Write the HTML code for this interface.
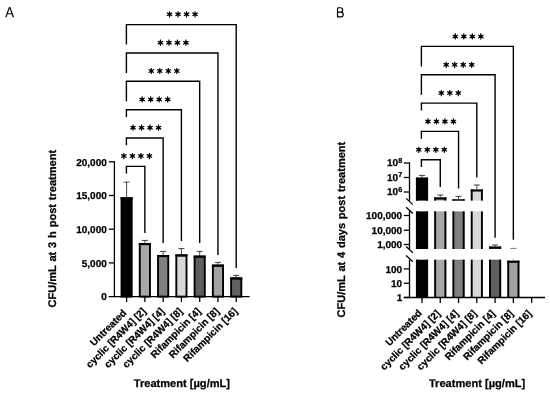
<!DOCTYPE html>
<html><head><meta charset="utf-8"><title>Figure</title>
<style>
html,body{margin:0;padding:0;background:#fff;}
svg{display:block;will-change:transform;font-family:'Liberation Sans', sans-serif;}
text{fill:#000;stroke:#000;stroke-width:0.25px;text-rendering:geometricPrecision;}
</style></head>
<body>
<svg width="550" height="395" viewBox="0 0 550 395">
<rect width="550" height="395" fill="#fff"/>
<line x1="126.60" y1="182.10" x2="126.60" y2="197.30" stroke="#1a1a1a" stroke-width="0.8" stroke-linecap="butt"/>
<line x1="123.60" y1="182.10" x2="129.60" y2="182.10" stroke="#222" stroke-width="0.85" stroke-linecap="butt"/>
<rect x="121.50" y="198.25" width="10.20" height="98.35" fill="#000" stroke="#000" stroke-width="1.9"/>
<line x1="120.55" y1="198.38" x2="132.65" y2="198.38" stroke="#000" stroke-width="2.16" stroke-linecap="butt"/>
<line x1="144.87" y1="240.40" x2="144.87" y2="243.00" stroke="#1a1a1a" stroke-width="0.8" stroke-linecap="butt"/>
<line x1="141.87" y1="240.40" x2="147.87" y2="240.40" stroke="#222" stroke-width="0.85" stroke-linecap="butt"/>
<rect x="139.77" y="243.95" width="10.20" height="52.65" fill="#a8a8a9" stroke="#000" stroke-width="1.9"/>
<line x1="138.82" y1="244.08" x2="150.92" y2="244.08" stroke="#000" stroke-width="2.16" stroke-linecap="butt"/>
<line x1="163.14" y1="251.40" x2="163.14" y2="255.00" stroke="#1a1a1a" stroke-width="0.8" stroke-linecap="butt"/>
<line x1="160.14" y1="251.40" x2="166.14" y2="251.40" stroke="#222" stroke-width="0.85" stroke-linecap="butt"/>
<rect x="158.04" y="255.95" width="10.20" height="40.65" fill="#808080" stroke="#000" stroke-width="1.9"/>
<line x1="157.09" y1="256.08" x2="169.19" y2="256.08" stroke="#000" stroke-width="2.16" stroke-linecap="butt"/>
<line x1="181.41" y1="248.60" x2="181.41" y2="254.40" stroke="#1a1a1a" stroke-width="0.8" stroke-linecap="butt"/>
<line x1="178.41" y1="248.60" x2="184.41" y2="248.60" stroke="#222" stroke-width="0.85" stroke-linecap="butt"/>
<rect x="176.31" y="255.35" width="10.20" height="41.25" fill="#d8d8d8" stroke="#000" stroke-width="1.9"/>
<line x1="175.36" y1="255.48" x2="187.46" y2="255.48" stroke="#000" stroke-width="2.16" stroke-linecap="butt"/>
<line x1="199.68" y1="251.40" x2="199.68" y2="255.60" stroke="#1a1a1a" stroke-width="0.8" stroke-linecap="butt"/>
<line x1="196.68" y1="251.40" x2="202.68" y2="251.40" stroke="#222" stroke-width="0.85" stroke-linecap="butt"/>
<rect x="194.58" y="256.55" width="10.20" height="40.05" fill="#5f5f5f" stroke="#000" stroke-width="1.9"/>
<line x1="193.63" y1="256.68" x2="205.73" y2="256.68" stroke="#000" stroke-width="2.16" stroke-linecap="butt"/>
<line x1="217.95" y1="262.40" x2="217.95" y2="264.60" stroke="#1a1a1a" stroke-width="0.8" stroke-linecap="butt"/>
<line x1="214.95" y1="262.40" x2="220.95" y2="262.40" stroke="#222" stroke-width="0.85" stroke-linecap="butt"/>
<rect x="212.85" y="265.55" width="10.20" height="31.05" fill="#a3a3a5" stroke="#000" stroke-width="1.9"/>
<line x1="211.90" y1="265.68" x2="224.00" y2="265.68" stroke="#000" stroke-width="2.16" stroke-linecap="butt"/>
<line x1="236.22" y1="275.40" x2="236.22" y2="277.40" stroke="#1a1a1a" stroke-width="0.8" stroke-linecap="butt"/>
<line x1="233.22" y1="275.40" x2="239.22" y2="275.40" stroke="#222" stroke-width="0.85" stroke-linecap="butt"/>
<rect x="231.12" y="278.35" width="10.20" height="18.25" fill="#606060" stroke="#000" stroke-width="1.9"/>
<line x1="230.17" y1="278.48" x2="242.27" y2="278.48" stroke="#000" stroke-width="2.16" stroke-linecap="butt"/>
<line x1="114.40" y1="161.15" x2="114.40" y2="297.25" stroke="#000" stroke-width="1.3" stroke-linecap="butt"/>
<line x1="108.60" y1="296.60" x2="249.60" y2="296.60" stroke="#000" stroke-width="1.3" stroke-linecap="butt"/>
<line x1="108.80" y1="262.90" x2="114.40" y2="262.90" stroke="#000" stroke-width="1.3" stroke-linecap="butt"/>
<line x1="108.80" y1="229.20" x2="114.40" y2="229.20" stroke="#000" stroke-width="1.3" stroke-linecap="butt"/>
<line x1="108.80" y1="195.50" x2="114.40" y2="195.50" stroke="#000" stroke-width="1.3" stroke-linecap="butt"/>
<line x1="108.80" y1="161.80" x2="114.40" y2="161.80" stroke="#000" stroke-width="1.3" stroke-linecap="butt"/>
<line x1="126.60" y1="296.60" x2="126.60" y2="302.10" stroke="#000" stroke-width="1.3" stroke-linecap="butt"/>
<line x1="144.87" y1="296.60" x2="144.87" y2="302.10" stroke="#000" stroke-width="1.3" stroke-linecap="butt"/>
<line x1="163.14" y1="296.60" x2="163.14" y2="302.10" stroke="#000" stroke-width="1.3" stroke-linecap="butt"/>
<line x1="181.41" y1="296.60" x2="181.41" y2="302.10" stroke="#000" stroke-width="1.3" stroke-linecap="butt"/>
<line x1="199.68" y1="296.60" x2="199.68" y2="302.10" stroke="#000" stroke-width="1.3" stroke-linecap="butt"/>
<line x1="217.95" y1="296.60" x2="217.95" y2="302.10" stroke="#000" stroke-width="1.3" stroke-linecap="butt"/>
<line x1="236.22" y1="296.60" x2="236.22" y2="302.10" stroke="#000" stroke-width="1.3" stroke-linecap="butt"/>
<text x="106.80" y="300.45" text-anchor="end" font-size="10" font-weight="bold">0</text>
<text x="106.80" y="266.75" text-anchor="end" font-size="10" font-weight="bold">5,000</text>
<text x="106.80" y="233.05" text-anchor="end" font-size="10" font-weight="bold">10,000</text>
<text x="106.80" y="199.35" text-anchor="end" font-size="10" font-weight="bold">15,000</text>
<text x="106.80" y="165.65" text-anchor="end" font-size="10" font-weight="bold">20,000</text>
<path d="M126.40 173.60V166.40H144.87V233.10" stroke="#000" stroke-width="1.4" fill="none" stroke-linejoin="miter"/>
<path d="M123.03 156.10L123.38 159.22L124.38 159.22L124.73 156.10ZM123.46 156.84L126.34 158.09L126.84 157.23L124.31 155.36ZM123.46 155.36L120.93 157.23L121.43 158.09L124.31 156.84ZM124.31 155.36L121.43 154.11L120.93 154.97L123.46 156.84ZM124.73 156.10L124.38 152.98L123.38 152.98L123.03 156.10ZM124.31 156.84L126.84 154.97L126.34 154.11L123.46 155.36ZM122.73 156.10a1.15 1.15 0 1 0 2.3 0a1.15 1.15 0 1 0 -2.3 0ZM131.53 156.10L131.88 159.22L132.88 159.22L133.23 156.10ZM131.96 156.84L134.84 158.09L135.34 157.23L132.81 155.36ZM131.96 155.36L129.43 157.23L129.93 158.09L132.81 156.84ZM132.81 155.36L129.93 154.11L129.43 154.97L131.96 156.84ZM133.23 156.10L132.88 152.98L131.88 152.98L131.53 156.10ZM132.81 156.84L135.34 154.97L134.84 154.11L131.96 155.36ZM131.23 156.10a1.15 1.15 0 1 0 2.3 0a1.15 1.15 0 1 0 -2.3 0ZM140.03 156.10L140.38 159.22L141.38 159.22L141.73 156.10ZM140.46 156.84L143.34 158.09L143.84 157.23L141.31 155.36ZM140.46 155.36L137.93 157.23L138.43 158.09L141.31 156.84ZM141.31 155.36L138.43 154.11L137.93 154.97L140.46 156.84ZM141.73 156.10L141.38 152.98L140.38 152.98L140.03 156.10ZM141.31 156.84L143.84 154.97L143.34 154.11L140.46 155.36ZM139.73 156.10a1.15 1.15 0 1 0 2.3 0a1.15 1.15 0 1 0 -2.3 0ZM148.53 156.10L148.88 159.22L149.88 159.22L150.23 156.10ZM148.96 156.84L151.84 158.09L152.34 157.23L149.81 155.36ZM148.96 155.36L146.43 157.23L146.93 158.09L149.81 156.84ZM149.81 155.36L146.93 154.11L146.43 154.97L148.96 156.84ZM150.23 156.10L149.88 152.98L148.88 152.98L148.53 156.10ZM149.81 156.84L152.34 154.97L151.84 154.11L148.96 155.36ZM148.23 156.10a1.15 1.15 0 1 0 2.3 0a1.15 1.15 0 1 0 -2.3 0Z" fill="#000" stroke="none"/>
<path d="M126.40 145.20V138.00H163.14V243.10" stroke="#000" stroke-width="1.4" fill="none" stroke-linejoin="miter"/>
<path d="M132.17 127.70L132.52 130.82L133.52 130.82L133.87 127.70ZM132.59 128.44L135.47 129.69L135.97 128.83L133.44 126.96ZM132.59 126.96L130.07 128.83L130.57 129.69L133.44 128.44ZM133.44 126.96L130.57 125.71L130.07 126.57L132.59 128.44ZM133.87 127.70L133.52 124.58L132.52 124.58L132.17 127.70ZM133.44 128.44L135.97 126.57L135.47 125.71L132.59 126.96ZM131.87 127.70a1.15 1.15 0 1 0 2.3 0a1.15 1.15 0 1 0 -2.3 0ZM140.67 127.70L141.02 130.82L142.02 130.82L142.37 127.70ZM141.09 128.44L143.97 129.69L144.47 128.83L141.94 126.96ZM141.09 126.96L138.57 128.83L139.07 129.69L141.94 128.44ZM141.94 126.96L139.07 125.71L138.57 126.57L141.09 128.44ZM142.37 127.70L142.02 124.58L141.02 124.58L140.67 127.70ZM141.94 128.44L144.47 126.57L143.97 125.71L141.09 126.96ZM140.37 127.70a1.15 1.15 0 1 0 2.3 0a1.15 1.15 0 1 0 -2.3 0ZM149.17 127.70L149.52 130.82L150.52 130.82L150.87 127.70ZM149.59 128.44L152.47 129.69L152.97 128.83L150.44 126.96ZM149.59 126.96L147.07 128.83L147.57 129.69L150.44 128.44ZM150.44 126.96L147.57 125.71L147.07 126.57L149.59 128.44ZM150.87 127.70L150.52 124.58L149.52 124.58L149.17 127.70ZM150.44 128.44L152.97 126.57L152.47 125.71L149.59 126.96ZM148.87 127.70a1.15 1.15 0 1 0 2.3 0a1.15 1.15 0 1 0 -2.3 0ZM157.67 127.70L158.02 130.82L159.02 130.82L159.37 127.70ZM158.09 128.44L160.97 129.69L161.47 128.83L158.94 126.96ZM158.09 126.96L155.57 128.83L156.07 129.69L158.94 128.44ZM158.94 126.96L156.07 125.71L155.57 126.57L158.09 128.44ZM159.37 127.70L159.02 124.58L158.02 124.58L157.67 127.70ZM158.94 128.44L161.47 126.57L160.97 125.71L158.09 126.96ZM157.37 127.70a1.15 1.15 0 1 0 2.3 0a1.15 1.15 0 1 0 -2.3 0Z" fill="#000" stroke="none"/>
<path d="M126.40 116.90V109.70H181.41V241.10" stroke="#000" stroke-width="1.4" fill="none" stroke-linejoin="miter"/>
<path d="M141.31 99.40L141.66 102.52L142.66 102.52L143.00 99.40ZM141.73 100.14L144.61 101.39L145.11 100.53L142.58 98.66ZM141.73 98.66L139.20 100.53L139.70 101.39L142.58 100.14ZM142.58 98.66L139.70 97.41L139.20 98.27L141.73 100.14ZM143.00 99.40L142.66 96.28L141.66 96.28L141.31 99.40ZM142.58 100.14L145.11 98.27L144.61 97.41L141.73 98.66ZM141.00 99.40a1.15 1.15 0 1 0 2.3 0a1.15 1.15 0 1 0 -2.3 0ZM149.81 99.40L150.16 102.52L151.16 102.52L151.50 99.40ZM150.23 100.14L153.11 101.39L153.61 100.53L151.08 98.66ZM150.23 98.66L147.70 100.53L148.20 101.39L151.08 100.14ZM151.08 98.66L148.20 97.41L147.70 98.27L150.23 100.14ZM151.50 99.40L151.16 96.28L150.16 96.28L149.81 99.40ZM151.08 100.14L153.61 98.27L153.11 97.41L150.23 98.66ZM149.50 99.40a1.15 1.15 0 1 0 2.3 0a1.15 1.15 0 1 0 -2.3 0ZM158.31 99.40L158.66 102.52L159.66 102.52L160.00 99.40ZM158.73 100.14L161.61 101.39L162.11 100.53L159.58 98.66ZM158.73 98.66L156.20 100.53L156.70 101.39L159.58 100.14ZM159.58 98.66L156.70 97.41L156.20 98.27L158.73 100.14ZM160.00 99.40L159.66 96.28L158.66 96.28L158.31 99.40ZM159.58 100.14L162.11 98.27L161.61 97.41L158.73 98.66ZM158.00 99.40a1.15 1.15 0 1 0 2.3 0a1.15 1.15 0 1 0 -2.3 0ZM166.81 99.40L167.16 102.52L168.16 102.52L168.50 99.40ZM167.23 100.14L170.11 101.39L170.61 100.53L168.08 98.66ZM167.23 98.66L164.70 100.53L165.20 101.39L168.08 100.14ZM168.08 98.66L165.20 97.41L164.70 98.27L167.23 100.14ZM168.50 99.40L168.16 96.28L167.16 96.28L166.81 99.40ZM168.08 100.14L170.61 98.27L170.11 97.41L167.23 98.66ZM166.50 99.40a1.15 1.15 0 1 0 2.3 0a1.15 1.15 0 1 0 -2.3 0Z" fill="#000" stroke="none"/>
<path d="M126.40 101.30V81.30H199.68V243.10" stroke="#000" stroke-width="1.4" fill="none" stroke-linejoin="miter"/>
<path d="M150.44 71.00L150.79 74.12L151.79 74.12L152.14 71.00ZM150.87 71.74L153.74 72.99L154.24 72.13L151.72 70.26ZM150.87 70.26L148.34 72.13L148.84 72.99L151.72 71.74ZM151.72 70.26L148.84 69.01L148.34 69.87L150.87 71.74ZM152.14 71.00L151.79 67.88L150.79 67.88L150.44 71.00ZM151.72 71.74L154.24 69.87L153.74 69.01L150.87 70.26ZM150.14 71.00a1.15 1.15 0 1 0 2.3 0a1.15 1.15 0 1 0 -2.3 0ZM158.94 71.00L159.29 74.12L160.29 74.12L160.64 71.00ZM159.37 71.74L162.24 72.99L162.74 72.13L160.22 70.26ZM159.37 70.26L156.84 72.13L157.34 72.99L160.22 71.74ZM160.22 70.26L157.34 69.01L156.84 69.87L159.37 71.74ZM160.64 71.00L160.29 67.88L159.29 67.88L158.94 71.00ZM160.22 71.74L162.74 69.87L162.24 69.01L159.37 70.26ZM158.64 71.00a1.15 1.15 0 1 0 2.3 0a1.15 1.15 0 1 0 -2.3 0ZM167.44 71.00L167.79 74.12L168.79 74.12L169.14 71.00ZM167.87 71.74L170.74 72.99L171.24 72.13L168.72 70.26ZM167.87 70.26L165.34 72.13L165.84 72.99L168.72 71.74ZM168.72 70.26L165.84 69.01L165.34 69.87L167.87 71.74ZM169.14 71.00L168.79 67.88L167.79 67.88L167.44 71.00ZM168.72 71.74L171.24 69.87L170.74 69.01L167.87 70.26ZM167.14 71.00a1.15 1.15 0 1 0 2.3 0a1.15 1.15 0 1 0 -2.3 0ZM175.94 71.00L176.29 74.12L177.29 74.12L177.64 71.00ZM176.37 71.74L179.24 72.99L179.74 72.13L177.22 70.26ZM176.37 70.26L173.84 72.13L174.34 72.99L177.22 71.74ZM177.22 70.26L174.34 69.01L173.84 69.87L176.37 71.74ZM177.64 71.00L177.29 67.88L176.29 67.88L175.94 71.00ZM177.22 71.74L179.74 69.87L179.24 69.01L176.37 70.26ZM175.64 71.00a1.15 1.15 0 1 0 2.3 0a1.15 1.15 0 1 0 -2.3 0Z" fill="#000" stroke="none"/>
<path d="M126.40 72.96V52.96H217.95V255.10" stroke="#000" stroke-width="1.4" fill="none" stroke-linejoin="miter"/>
<path d="M159.58 42.66L159.93 45.78L160.93 45.78L161.28 42.66ZM160.00 43.40L162.88 44.65L163.38 43.79L160.85 41.92ZM160.00 41.92L157.47 43.79L157.97 44.65L160.85 43.40ZM160.85 41.92L157.97 40.67L157.47 41.53L160.00 43.40ZM161.28 42.66L160.93 39.54L159.93 39.54L159.58 42.66ZM160.85 43.40L163.38 41.53L162.88 40.67L160.00 41.92ZM159.28 42.66a1.15 1.15 0 1 0 2.3 0a1.15 1.15 0 1 0 -2.3 0ZM168.08 42.66L168.43 45.78L169.43 45.78L169.78 42.66ZM168.50 43.40L171.38 44.65L171.88 43.79L169.35 41.92ZM168.50 41.92L165.97 43.79L166.47 44.65L169.35 43.40ZM169.35 41.92L166.47 40.67L165.97 41.53L168.50 43.40ZM169.78 42.66L169.43 39.54L168.43 39.54L168.08 42.66ZM169.35 43.40L171.88 41.53L171.38 40.67L168.50 41.92ZM167.78 42.66a1.15 1.15 0 1 0 2.3 0a1.15 1.15 0 1 0 -2.3 0ZM176.58 42.66L176.93 45.78L177.93 45.78L178.28 42.66ZM177.00 43.40L179.88 44.65L180.38 43.79L177.85 41.92ZM177.00 41.92L174.47 43.79L174.97 44.65L177.85 43.40ZM177.85 41.92L174.97 40.67L174.47 41.53L177.00 43.40ZM178.28 42.66L177.93 39.54L176.93 39.54L176.58 42.66ZM177.85 43.40L180.38 41.53L179.88 40.67L177.00 41.92ZM176.28 42.66a1.15 1.15 0 1 0 2.3 0a1.15 1.15 0 1 0 -2.3 0ZM185.08 42.66L185.43 45.78L186.43 45.78L186.78 42.66ZM185.50 43.40L188.38 44.65L188.88 43.79L186.35 41.92ZM185.50 41.92L182.97 43.79L183.47 44.65L186.35 43.40ZM186.35 41.92L183.47 40.67L182.97 41.53L185.50 43.40ZM186.78 42.66L186.43 39.54L185.43 39.54L185.08 42.66ZM186.35 43.40L188.88 41.53L188.38 40.67L185.50 41.92ZM184.78 42.66a1.15 1.15 0 1 0 2.3 0a1.15 1.15 0 1 0 -2.3 0Z" fill="#000" stroke="none"/>
<path d="M126.40 44.60V24.60H236.22V267.90" stroke="#000" stroke-width="1.4" fill="none" stroke-linejoin="miter"/>
<path d="M168.71 14.30L169.06 17.42L170.06 17.42L170.41 14.30ZM169.13 15.04L172.01 16.29L172.51 15.43L169.99 13.56ZM169.13 13.56L166.61 15.43L167.11 16.29L169.99 15.04ZM169.99 13.56L167.11 12.31L166.61 13.17L169.13 15.04ZM170.41 14.30L170.06 11.18L169.06 11.18L168.71 14.30ZM169.99 15.04L172.51 13.17L172.01 12.31L169.13 13.56ZM168.41 14.30a1.15 1.15 0 1 0 2.3 0a1.15 1.15 0 1 0 -2.3 0ZM177.21 14.30L177.56 17.42L178.56 17.42L178.91 14.30ZM177.63 15.04L180.51 16.29L181.01 15.43L178.49 13.56ZM177.63 13.56L175.11 15.43L175.61 16.29L178.49 15.04ZM178.49 13.56L175.61 12.31L175.11 13.17L177.63 15.04ZM178.91 14.30L178.56 11.18L177.56 11.18L177.21 14.30ZM178.49 15.04L181.01 13.17L180.51 12.31L177.63 13.56ZM176.91 14.30a1.15 1.15 0 1 0 2.3 0a1.15 1.15 0 1 0 -2.3 0ZM185.71 14.30L186.06 17.42L187.06 17.42L187.41 14.30ZM186.13 15.04L189.01 16.29L189.51 15.43L186.99 13.56ZM186.13 13.56L183.61 15.43L184.11 16.29L186.99 15.04ZM186.99 13.56L184.11 12.31L183.61 13.17L186.13 15.04ZM187.41 14.30L187.06 11.18L186.06 11.18L185.71 14.30ZM186.99 15.04L189.51 13.17L189.01 12.31L186.13 13.56ZM185.41 14.30a1.15 1.15 0 1 0 2.3 0a1.15 1.15 0 1 0 -2.3 0ZM194.21 14.30L194.56 17.42L195.56 17.42L195.91 14.30ZM194.63 15.04L197.51 16.29L198.01 15.43L195.49 13.56ZM194.63 13.56L192.11 15.43L192.61 16.29L195.49 15.04ZM195.49 13.56L192.61 12.31L192.11 13.17L194.63 15.04ZM195.91 14.30L195.56 11.18L194.56 11.18L194.21 14.30ZM195.49 15.04L198.01 13.17L197.51 12.31L194.63 13.56ZM193.91 14.30a1.15 1.15 0 1 0 2.3 0a1.15 1.15 0 1 0 -2.3 0Z" fill="#000" stroke="none"/>
<text x="127.00" y="313.60" text-anchor="end" font-size="10" font-weight="bold" transform="rotate(-45 127.00 313.60)">Untreated</text>
<text x="146.67" y="311.90" text-anchor="end" font-size="10" font-weight="bold" transform="rotate(-45 146.67 311.90)">cyclic [R4W4] [2]</text>
<text x="164.94" y="311.90" text-anchor="end" font-size="10" font-weight="bold" transform="rotate(-45 164.94 311.90)">cyclic [R4W4] [4]</text>
<text x="183.21" y="311.90" text-anchor="end" font-size="10" font-weight="bold" transform="rotate(-45 183.21 311.90)">cyclic [R4W4] [8]</text>
<text x="201.48" y="311.90" text-anchor="end" font-size="10" font-weight="bold" transform="rotate(-45 201.48 311.90)">Rifampicin [4]</text>
<text x="219.75" y="311.90" text-anchor="end" font-size="10" font-weight="bold" transform="rotate(-45 219.75 311.90)">Rifampicin [8]</text>
<text x="238.02" y="311.90" text-anchor="end" font-size="10" font-weight="bold" transform="rotate(-45 238.02 311.90)">Rifampicin [16]</text>
<text x="181.9" y="386.8" text-anchor="middle" font-size="11.08" font-weight="bold">Treatment [µg/mL]</text>
<text x="56.0" y="228.7" text-anchor="middle" font-size="11.06" word-spacing="0.75" font-weight="bold" transform="rotate(-90 56.0 228.7)">CFU/mL at 3 h post treatment</text>
<path d="M5.85 17.25L9.3 7.65H10.0L13.45 17.25M7.0 13.75H12.3" stroke="#000" stroke-width="1.2" fill="none" stroke-linejoin="round"/>
<line x1="422.00" y1="175.40" x2="422.00" y2="177.70" stroke="#1a1a1a" stroke-width="0.8" stroke-linecap="butt"/>
<line x1="419.00" y1="175.40" x2="425.00" y2="175.40" stroke="#222" stroke-width="0.85" stroke-linecap="butt"/>
<rect x="415.95" y="177.70" width="12.10" height="22.90" fill="#000"/>
<line x1="416.90" y1="177.70" x2="416.90" y2="200.60" stroke="#000" stroke-width="1.9" stroke-linecap="butt"/>
<line x1="427.10" y1="177.70" x2="427.10" y2="200.60" stroke="#000" stroke-width="1.9" stroke-linecap="butt"/>
<line x1="415.95" y1="178.78" x2="428.05" y2="178.78" stroke="#000" stroke-width="2.16" stroke-linecap="butt"/>
<rect x="415.95" y="211.40" width="12.10" height="37.60" fill="#000"/>
<line x1="416.90" y1="211.40" x2="416.90" y2="249.00" stroke="#000" stroke-width="1.9" stroke-linecap="butt"/>
<line x1="427.10" y1="211.40" x2="427.10" y2="249.00" stroke="#000" stroke-width="1.9" stroke-linecap="butt"/>
<rect x="415.95" y="259.70" width="12.10" height="37.80" fill="#000"/>
<line x1="416.90" y1="259.70" x2="416.90" y2="297.50" stroke="#000" stroke-width="1.9" stroke-linecap="butt"/>
<line x1="427.10" y1="259.70" x2="427.10" y2="297.50" stroke="#000" stroke-width="1.9" stroke-linecap="butt"/>
<line x1="440.27" y1="195.00" x2="440.27" y2="197.40" stroke="#1a1a1a" stroke-width="0.8" stroke-linecap="butt"/>
<line x1="437.27" y1="195.00" x2="443.27" y2="195.00" stroke="#222" stroke-width="0.85" stroke-linecap="butt"/>
<rect x="434.22" y="197.40" width="12.10" height="3.20" fill="#a8a8a9"/>
<line x1="435.17" y1="197.40" x2="435.17" y2="200.60" stroke="#000" stroke-width="1.9" stroke-linecap="butt"/>
<line x1="445.37" y1="197.40" x2="445.37" y2="200.60" stroke="#000" stroke-width="1.9" stroke-linecap="butt"/>
<line x1="434.22" y1="198.48" x2="446.32" y2="198.48" stroke="#000" stroke-width="2.16" stroke-linecap="butt"/>
<rect x="434.22" y="211.40" width="12.10" height="37.60" fill="#a8a8a9"/>
<line x1="435.17" y1="211.40" x2="435.17" y2="249.00" stroke="#000" stroke-width="1.9" stroke-linecap="butt"/>
<line x1="445.37" y1="211.40" x2="445.37" y2="249.00" stroke="#000" stroke-width="1.9" stroke-linecap="butt"/>
<rect x="434.22" y="259.70" width="12.10" height="37.80" fill="#a8a8a9"/>
<line x1="435.17" y1="259.70" x2="435.17" y2="297.50" stroke="#000" stroke-width="1.9" stroke-linecap="butt"/>
<line x1="445.37" y1="259.70" x2="445.37" y2="297.50" stroke="#000" stroke-width="1.9" stroke-linecap="butt"/>
<line x1="458.54" y1="196.40" x2="458.54" y2="199.35" stroke="#1a1a1a" stroke-width="0.8" stroke-linecap="butt"/>
<line x1="455.54" y1="196.40" x2="461.54" y2="196.40" stroke="#222" stroke-width="0.85" stroke-linecap="butt"/>
<rect x="452.49" y="199.35" width="12.10" height="1.25" fill="#808080"/>
<line x1="453.44" y1="199.35" x2="453.44" y2="200.60" stroke="#000" stroke-width="1.9" stroke-linecap="butt"/>
<line x1="463.64" y1="199.35" x2="463.64" y2="200.60" stroke="#000" stroke-width="1.9" stroke-linecap="butt"/>
<line x1="452.49" y1="199.97" x2="464.59" y2="199.97" stroke="#000" stroke-width="1.25" stroke-linecap="butt"/>
<rect x="452.49" y="211.40" width="12.10" height="37.60" fill="#808080"/>
<line x1="453.44" y1="211.40" x2="453.44" y2="249.00" stroke="#000" stroke-width="1.9" stroke-linecap="butt"/>
<line x1="463.64" y1="211.40" x2="463.64" y2="249.00" stroke="#000" stroke-width="1.9" stroke-linecap="butt"/>
<rect x="452.49" y="259.70" width="12.10" height="37.80" fill="#808080"/>
<line x1="453.44" y1="259.70" x2="453.44" y2="297.50" stroke="#000" stroke-width="1.9" stroke-linecap="butt"/>
<line x1="463.64" y1="259.70" x2="463.64" y2="297.50" stroke="#000" stroke-width="1.9" stroke-linecap="butt"/>
<line x1="476.81" y1="185.00" x2="476.81" y2="189.40" stroke="#1a1a1a" stroke-width="0.8" stroke-linecap="butt"/>
<line x1="473.81" y1="185.00" x2="479.81" y2="185.00" stroke="#222" stroke-width="0.85" stroke-linecap="butt"/>
<rect x="470.76" y="189.40" width="12.10" height="11.20" fill="#d8d8d8"/>
<line x1="471.71" y1="189.40" x2="471.71" y2="200.60" stroke="#000" stroke-width="1.9" stroke-linecap="butt"/>
<line x1="481.91" y1="189.40" x2="481.91" y2="200.60" stroke="#000" stroke-width="1.9" stroke-linecap="butt"/>
<line x1="470.76" y1="190.48" x2="482.86" y2="190.48" stroke="#000" stroke-width="2.16" stroke-linecap="butt"/>
<rect x="470.76" y="211.40" width="12.10" height="37.60" fill="#d8d8d8"/>
<line x1="471.71" y1="211.40" x2="471.71" y2="249.00" stroke="#000" stroke-width="1.9" stroke-linecap="butt"/>
<line x1="481.91" y1="211.40" x2="481.91" y2="249.00" stroke="#000" stroke-width="1.9" stroke-linecap="butt"/>
<rect x="470.76" y="259.70" width="12.10" height="37.80" fill="#d8d8d8"/>
<line x1="471.71" y1="259.70" x2="471.71" y2="297.50" stroke="#000" stroke-width="1.9" stroke-linecap="butt"/>
<line x1="481.91" y1="259.70" x2="481.91" y2="297.50" stroke="#000" stroke-width="1.9" stroke-linecap="butt"/>
<line x1="495.08" y1="245.00" x2="495.08" y2="246.60" stroke="#1a1a1a" stroke-width="0.8" stroke-linecap="butt"/>
<line x1="492.08" y1="245.00" x2="498.08" y2="245.00" stroke="#222" stroke-width="0.85" stroke-linecap="butt"/>
<rect x="489.03" y="246.60" width="12.10" height="2.40" fill="#5f5f5f"/>
<line x1="489.98" y1="246.60" x2="489.98" y2="249.00" stroke="#000" stroke-width="1.9" stroke-linecap="butt"/>
<line x1="500.18" y1="246.60" x2="500.18" y2="249.00" stroke="#000" stroke-width="1.9" stroke-linecap="butt"/>
<line x1="489.03" y1="247.68" x2="501.13" y2="247.68" stroke="#000" stroke-width="2.16" stroke-linecap="butt"/>
<rect x="489.03" y="259.70" width="12.10" height="37.80" fill="#5f5f5f"/>
<line x1="489.98" y1="259.70" x2="489.98" y2="297.50" stroke="#000" stroke-width="1.9" stroke-linecap="butt"/>
<line x1="500.18" y1="259.70" x2="500.18" y2="297.50" stroke="#000" stroke-width="1.9" stroke-linecap="butt"/>
<line x1="510.15" y1="248.40" x2="516.55" y2="248.40" stroke="#444" stroke-width="0.7" stroke-linecap="butt"/>
<line x1="513.35" y1="259.60" x2="513.35" y2="261.00" stroke="#222" stroke-width="0.6" stroke-linecap="butt"/>
<rect x="507.30" y="260.70" width="12.10" height="36.80" fill="#a3a3a5"/>
<line x1="508.25" y1="260.70" x2="508.25" y2="297.50" stroke="#000" stroke-width="1.9" stroke-linecap="butt"/>
<line x1="518.45" y1="260.70" x2="518.45" y2="297.50" stroke="#000" stroke-width="1.9" stroke-linecap="butt"/>
<line x1="507.30" y1="261.78" x2="519.40" y2="261.78" stroke="#000" stroke-width="2.16" stroke-linecap="butt"/>
<line x1="409.50" y1="162.35" x2="409.50" y2="200.80" stroke="#000" stroke-width="1.3" stroke-linecap="butt"/>
<line x1="409.50" y1="210.85" x2="409.50" y2="248.90" stroke="#000" stroke-width="1.3" stroke-linecap="butt"/>
<line x1="409.50" y1="259.75" x2="409.50" y2="298.15" stroke="#000" stroke-width="1.3" stroke-linecap="butt"/>
<line x1="403.80" y1="297.50" x2="545.00" y2="297.50" stroke="#000" stroke-width="1.3" stroke-linecap="butt"/>
<line x1="406.15" y1="198.35" x2="412.85" y2="204.65" stroke="#000" stroke-width="1.3" stroke-linecap="butt"/>
<line x1="406.15" y1="207.25" x2="412.85" y2="213.55" stroke="#000" stroke-width="1.3" stroke-linecap="butt"/>
<line x1="406.15" y1="246.45" x2="412.85" y2="252.75" stroke="#000" stroke-width="1.3" stroke-linecap="butt"/>
<line x1="406.15" y1="255.45" x2="412.85" y2="261.75" stroke="#000" stroke-width="1.3" stroke-linecap="butt"/>
<line x1="403.80" y1="163.00" x2="409.50" y2="163.00" stroke="#000" stroke-width="1.3" stroke-linecap="butt"/>
<text x="398.00" y="166.40" text-anchor="end" font-size="10" font-weight="bold">10</text>
<text x="398.30" y="162.80" font-size="7.2" font-weight="bold">8</text>
<line x1="403.80" y1="177.50" x2="409.50" y2="177.50" stroke="#000" stroke-width="1.3" stroke-linecap="butt"/>
<text x="398.00" y="180.90" text-anchor="end" font-size="10" font-weight="bold">10</text>
<text x="398.30" y="177.30" font-size="7.2" font-weight="bold">7</text>
<line x1="403.80" y1="192.00" x2="409.50" y2="192.00" stroke="#000" stroke-width="1.3" stroke-linecap="butt"/>
<text x="398.00" y="195.40" text-anchor="end" font-size="10" font-weight="bold">10</text>
<text x="398.30" y="191.80" font-size="7.2" font-weight="bold">6</text>
<line x1="403.80" y1="215.50" x2="409.50" y2="215.50" stroke="#000" stroke-width="1.3" stroke-linecap="butt"/>
<text x="402.20" y="219.35" text-anchor="end" font-size="10" font-weight="bold">100,000</text>
<line x1="403.80" y1="230.20" x2="409.50" y2="230.20" stroke="#000" stroke-width="1.3" stroke-linecap="butt"/>
<text x="402.20" y="234.05" text-anchor="end" font-size="10" font-weight="bold">10,000</text>
<line x1="403.80" y1="244.50" x2="409.50" y2="244.50" stroke="#000" stroke-width="1.3" stroke-linecap="butt"/>
<text x="402.20" y="248.35" text-anchor="end" font-size="10" font-weight="bold">1,000</text>
<line x1="403.80" y1="268.90" x2="409.50" y2="268.90" stroke="#000" stroke-width="1.3" stroke-linecap="butt"/>
<text x="402.20" y="272.75" text-anchor="end" font-size="10" font-weight="bold">100</text>
<line x1="403.80" y1="283.20" x2="409.50" y2="283.20" stroke="#000" stroke-width="1.3" stroke-linecap="butt"/>
<text x="402.20" y="287.05" text-anchor="end" font-size="10" font-weight="bold">10</text>
<line x1="403.80" y1="297.50" x2="409.50" y2="297.50" stroke="#000" stroke-width="1.3" stroke-linecap="butt"/>
<text x="402.20" y="301.35" text-anchor="end" font-size="10" font-weight="bold">1</text>
<line x1="422.00" y1="297.50" x2="422.00" y2="302.90" stroke="#000" stroke-width="1.3" stroke-linecap="butt"/>
<line x1="440.27" y1="297.50" x2="440.27" y2="302.90" stroke="#000" stroke-width="1.3" stroke-linecap="butt"/>
<line x1="458.54" y1="297.50" x2="458.54" y2="302.90" stroke="#000" stroke-width="1.3" stroke-linecap="butt"/>
<line x1="476.81" y1="297.50" x2="476.81" y2="302.90" stroke="#000" stroke-width="1.3" stroke-linecap="butt"/>
<line x1="495.08" y1="297.50" x2="495.08" y2="302.90" stroke="#000" stroke-width="1.3" stroke-linecap="butt"/>
<line x1="513.35" y1="297.50" x2="513.35" y2="302.90" stroke="#000" stroke-width="1.3" stroke-linecap="butt"/>
<line x1="531.62" y1="297.50" x2="531.62" y2="302.90" stroke="#000" stroke-width="1.3" stroke-linecap="butt"/>
<path d="M421.40 167.10V159.80H440.27V187.10" stroke="#000" stroke-width="1.4" fill="none" stroke-linejoin="miter"/>
<path d="M417.93 149.80L418.28 152.92L419.28 152.92L419.63 149.80ZM418.36 150.54L421.24 151.79L421.74 150.93L419.21 149.06ZM418.36 149.06L415.83 150.93L416.33 151.79L419.21 150.54ZM419.21 149.06L416.33 147.81L415.83 148.67L418.36 150.54ZM419.63 149.80L419.28 146.68L418.28 146.68L417.93 149.80ZM419.21 150.54L421.74 148.67L421.24 147.81L418.36 149.06ZM417.63 149.80a1.15 1.15 0 1 0 2.3 0a1.15 1.15 0 1 0 -2.3 0ZM426.43 149.80L426.78 152.92L427.78 152.92L428.13 149.80ZM426.86 150.54L429.74 151.79L430.24 150.93L427.71 149.06ZM426.86 149.06L424.33 150.93L424.83 151.79L427.71 150.54ZM427.71 149.06L424.83 147.81L424.33 148.67L426.86 150.54ZM428.13 149.80L427.78 146.68L426.78 146.68L426.43 149.80ZM427.71 150.54L430.24 148.67L429.74 147.81L426.86 149.06ZM426.13 149.80a1.15 1.15 0 1 0 2.3 0a1.15 1.15 0 1 0 -2.3 0ZM434.93 149.80L435.28 152.92L436.28 152.92L436.63 149.80ZM435.36 150.54L438.24 151.79L438.74 150.93L436.21 149.06ZM435.36 149.06L432.83 150.93L433.33 151.79L436.21 150.54ZM436.21 149.06L433.33 147.81L432.83 148.67L435.36 150.54ZM436.63 149.80L436.28 146.68L435.28 146.68L434.93 149.80ZM436.21 150.54L438.74 148.67L438.24 147.81L435.36 149.06ZM434.63 149.80a1.15 1.15 0 1 0 2.3 0a1.15 1.15 0 1 0 -2.3 0ZM443.43 149.80L443.78 152.92L444.78 152.92L445.13 149.80ZM443.86 150.54L446.74 151.79L447.24 150.93L444.71 149.06ZM443.86 149.06L441.33 150.93L441.83 151.79L444.71 150.54ZM444.71 149.06L441.83 147.81L441.33 148.67L443.86 150.54ZM445.13 149.80L444.78 146.68L443.78 146.68L443.43 149.80ZM444.71 150.54L447.24 148.67L446.74 147.81L443.86 149.06ZM443.13 149.80a1.15 1.15 0 1 0 2.3 0a1.15 1.15 0 1 0 -2.3 0Z" fill="#000" stroke="none"/>
<path d="M421.40 138.70V131.40H458.54V188.50" stroke="#000" stroke-width="1.4" fill="none" stroke-linejoin="miter"/>
<path d="M427.07 121.40L427.42 124.52L428.42 124.52L428.77 121.40ZM427.50 122.14L430.37 123.39L430.87 122.53L428.35 120.66ZM427.50 120.66L424.97 122.53L425.47 123.39L428.35 122.14ZM428.35 120.66L425.47 119.41L424.97 120.27L427.50 122.14ZM428.77 121.40L428.42 118.28L427.42 118.28L427.07 121.40ZM428.35 122.14L430.87 120.27L430.37 119.41L427.50 120.66ZM426.77 121.40a1.15 1.15 0 1 0 2.3 0a1.15 1.15 0 1 0 -2.3 0ZM435.57 121.40L435.92 124.52L436.92 124.52L437.27 121.40ZM436.00 122.14L438.87 123.39L439.37 122.53L436.85 120.66ZM436.00 120.66L433.47 122.53L433.97 123.39L436.85 122.14ZM436.85 120.66L433.97 119.41L433.47 120.27L436.00 122.14ZM437.27 121.40L436.92 118.28L435.92 118.28L435.57 121.40ZM436.85 122.14L439.37 120.27L438.87 119.41L436.00 120.66ZM435.27 121.40a1.15 1.15 0 1 0 2.3 0a1.15 1.15 0 1 0 -2.3 0ZM444.07 121.40L444.42 124.52L445.42 124.52L445.77 121.40ZM444.50 122.14L447.37 123.39L447.87 122.53L445.35 120.66ZM444.50 120.66L441.97 122.53L442.47 123.39L445.35 122.14ZM445.35 120.66L442.47 119.41L441.97 120.27L444.50 122.14ZM445.77 121.40L445.42 118.28L444.42 118.28L444.07 121.40ZM445.35 122.14L447.87 120.27L447.37 119.41L444.50 120.66ZM443.77 121.40a1.15 1.15 0 1 0 2.3 0a1.15 1.15 0 1 0 -2.3 0ZM452.57 121.40L452.92 124.52L453.92 124.52L454.27 121.40ZM453.00 122.14L455.87 123.39L456.37 122.53L453.85 120.66ZM453.00 120.66L450.47 122.53L450.97 123.39L453.85 122.14ZM453.85 120.66L450.97 119.41L450.47 120.27L453.00 122.14ZM454.27 121.40L453.92 118.28L452.92 118.28L452.57 121.40ZM453.85 122.14L456.37 120.27L455.87 119.41L453.00 120.66ZM452.27 121.40a1.15 1.15 0 1 0 2.3 0a1.15 1.15 0 1 0 -2.3 0Z" fill="#000" stroke="none"/>
<path d="M421.40 110.40V103.10H476.81V177.50" stroke="#000" stroke-width="1.4" fill="none" stroke-linejoin="miter"/>
<path d="M440.45 93.10L440.81 96.22L441.81 96.22L442.16 93.10ZM440.88 93.84L443.76 95.09L444.26 94.23L441.73 92.36ZM440.88 92.36L438.35 94.23L438.85 95.09L441.73 93.84ZM441.73 92.36L438.85 91.11L438.35 91.97L440.88 93.84ZM442.16 93.10L441.81 89.98L440.81 89.98L440.45 93.10ZM441.73 93.84L444.26 91.97L443.76 91.11L440.88 92.36ZM440.16 93.10a1.15 1.15 0 1 0 2.3 0a1.15 1.15 0 1 0 -2.3 0ZM448.95 93.10L449.31 96.22L450.31 96.22L450.66 93.10ZM449.38 93.84L452.26 95.09L452.76 94.23L450.23 92.36ZM449.38 92.36L446.85 94.23L447.35 95.09L450.23 93.84ZM450.23 92.36L447.35 91.11L446.85 91.97L449.38 93.84ZM450.66 93.10L450.31 89.98L449.31 89.98L448.95 93.10ZM450.23 93.84L452.76 91.97L452.26 91.11L449.38 92.36ZM448.66 93.10a1.15 1.15 0 1 0 2.3 0a1.15 1.15 0 1 0 -2.3 0ZM457.45 93.10L457.81 96.22L458.81 96.22L459.16 93.10ZM457.88 93.84L460.76 95.09L461.26 94.23L458.73 92.36ZM457.88 92.36L455.35 94.23L455.85 95.09L458.73 93.84ZM458.73 92.36L455.85 91.11L455.35 91.97L457.88 93.84ZM459.16 93.10L458.81 89.98L457.81 89.98L457.45 93.10ZM458.73 93.84L461.26 91.97L460.76 91.11L457.88 92.36ZM457.16 93.10a1.15 1.15 0 1 0 2.3 0a1.15 1.15 0 1 0 -2.3 0Z" fill="#000" stroke="none"/>
<path d="M421.40 94.80V74.80H495.08V237.80" stroke="#000" stroke-width="1.4" fill="none" stroke-linejoin="miter"/>
<path d="M445.34 64.80L445.69 67.92L446.69 67.92L447.04 64.80ZM445.76 65.54L448.64 66.79L449.14 65.93L446.62 64.06ZM445.76 64.06L443.24 65.93L443.74 66.79L446.62 65.54ZM446.62 64.06L443.74 62.81L443.24 63.67L445.76 65.54ZM447.04 64.80L446.69 61.68L445.69 61.68L445.34 64.80ZM446.62 65.54L449.14 63.67L448.64 62.81L445.76 64.06ZM445.04 64.80a1.15 1.15 0 1 0 2.3 0a1.15 1.15 0 1 0 -2.3 0ZM453.84 64.80L454.19 67.92L455.19 67.92L455.54 64.80ZM454.26 65.54L457.14 66.79L457.64 65.93L455.12 64.06ZM454.26 64.06L451.74 65.93L452.24 66.79L455.12 65.54ZM455.12 64.06L452.24 62.81L451.74 63.67L454.26 65.54ZM455.54 64.80L455.19 61.68L454.19 61.68L453.84 64.80ZM455.12 65.54L457.64 63.67L457.14 62.81L454.26 64.06ZM453.54 64.80a1.15 1.15 0 1 0 2.3 0a1.15 1.15 0 1 0 -2.3 0ZM462.34 64.80L462.69 67.92L463.69 67.92L464.04 64.80ZM462.76 65.54L465.64 66.79L466.14 65.93L463.62 64.06ZM462.76 64.06L460.24 65.93L460.74 66.79L463.62 65.54ZM463.62 64.06L460.74 62.81L460.24 63.67L462.76 65.54ZM464.04 64.80L463.69 61.68L462.69 61.68L462.34 64.80ZM463.62 65.54L466.14 63.67L465.64 62.81L462.76 64.06ZM462.04 64.80a1.15 1.15 0 1 0 2.3 0a1.15 1.15 0 1 0 -2.3 0ZM470.84 64.80L471.19 67.92L472.19 67.92L472.54 64.80ZM471.26 65.54L474.14 66.79L474.64 65.93L472.12 64.06ZM471.26 64.06L468.74 65.93L469.24 66.79L472.12 65.54ZM472.12 64.06L469.24 62.81L468.74 63.67L471.26 65.54ZM472.54 64.80L472.19 61.68L471.19 61.68L470.84 64.80ZM472.12 65.54L474.64 63.67L474.14 62.81L471.26 64.06ZM470.54 64.80a1.15 1.15 0 1 0 2.3 0a1.15 1.15 0 1 0 -2.3 0Z" fill="#000" stroke="none"/>
<path d="M421.40 66.40V46.40H513.35V239.80" stroke="#000" stroke-width="1.4" fill="none" stroke-linejoin="miter"/>
<path d="M454.47 36.40L454.82 39.52L455.82 39.52L456.18 36.40ZM454.90 37.14L457.78 38.39L458.28 37.53L455.75 35.66ZM454.90 35.66L452.37 37.53L452.87 38.39L455.75 37.14ZM455.75 35.66L452.87 34.41L452.37 35.27L454.90 37.14ZM456.18 36.40L455.82 33.28L454.82 33.28L454.47 36.40ZM455.75 37.14L458.28 35.27L457.78 34.41L454.90 35.66ZM454.18 36.40a1.15 1.15 0 1 0 2.3 0a1.15 1.15 0 1 0 -2.3 0ZM462.97 36.40L463.32 39.52L464.32 39.52L464.68 36.40ZM463.40 37.14L466.28 38.39L466.78 37.53L464.25 35.66ZM463.40 35.66L460.87 37.53L461.37 38.39L464.25 37.14ZM464.25 35.66L461.37 34.41L460.87 35.27L463.40 37.14ZM464.68 36.40L464.32 33.28L463.32 33.28L462.97 36.40ZM464.25 37.14L466.78 35.27L466.28 34.41L463.40 35.66ZM462.68 36.40a1.15 1.15 0 1 0 2.3 0a1.15 1.15 0 1 0 -2.3 0ZM471.47 36.40L471.82 39.52L472.82 39.52L473.18 36.40ZM471.90 37.14L474.78 38.39L475.28 37.53L472.75 35.66ZM471.90 35.66L469.37 37.53L469.87 38.39L472.75 37.14ZM472.75 35.66L469.87 34.41L469.37 35.27L471.90 37.14ZM473.18 36.40L472.82 33.28L471.82 33.28L471.47 36.40ZM472.75 37.14L475.28 35.27L474.78 34.41L471.90 35.66ZM471.18 36.40a1.15 1.15 0 1 0 2.3 0a1.15 1.15 0 1 0 -2.3 0ZM479.97 36.40L480.32 39.52L481.32 39.52L481.68 36.40ZM480.40 37.14L483.28 38.39L483.78 37.53L481.25 35.66ZM480.40 35.66L477.87 37.53L478.37 38.39L481.25 37.14ZM481.25 35.66L478.37 34.41L477.87 35.27L480.40 37.14ZM481.68 36.40L481.32 33.28L480.32 33.28L479.97 36.40ZM481.25 37.14L483.78 35.27L483.28 34.41L480.40 35.66ZM479.68 36.40a1.15 1.15 0 1 0 2.3 0a1.15 1.15 0 1 0 -2.3 0Z" fill="#000" stroke="none"/>
<text x="422.40" y="313.60" text-anchor="end" font-size="10" font-weight="bold" transform="rotate(-45 422.40 313.60)">Untreated</text>
<text x="440.87" y="314.10" text-anchor="end" font-size="10" font-weight="bold" transform="rotate(-45 440.87 314.10)">cyclic [R4W4] [2]</text>
<text x="459.14" y="314.10" text-anchor="end" font-size="10" font-weight="bold" transform="rotate(-45 459.14 314.10)">cyclic [R4W4] [4]</text>
<text x="477.41" y="314.10" text-anchor="end" font-size="10" font-weight="bold" transform="rotate(-45 477.41 314.10)">cyclic [R4W4] [8]</text>
<text x="495.68" y="314.10" text-anchor="end" font-size="10" font-weight="bold" transform="rotate(-45 495.68 314.10)">Rifampicin [4]</text>
<text x="513.95" y="314.10" text-anchor="end" font-size="10" font-weight="bold" transform="rotate(-45 513.95 314.10)">Rifampicin [8]</text>
<text x="532.22" y="314.10" text-anchor="end" font-size="10" font-weight="bold" transform="rotate(-45 532.22 314.10)">Rifampicin [16]</text>
<text x="477.1" y="386.5" text-anchor="middle" font-size="11.08" font-weight="bold">Treatment [µg/mL]</text>
<text x="345.3" y="229.6" text-anchor="middle" font-size="11.06" word-spacing="0.7" font-weight="bold" transform="rotate(-90 345.3 229.6)">CFU/mL at 4 days post treatment</text>
<path d="M337.55 7.75H340.5A2.15 2.15 0 0 1 340.5 12.05H337.55M340.8 12.05A2.45 2.45 0 0 1 340.8 16.95H337.55V7.75" stroke="#000" stroke-width="1.2" fill="none" stroke-linejoin="round"/>
</svg>
</body></html>
